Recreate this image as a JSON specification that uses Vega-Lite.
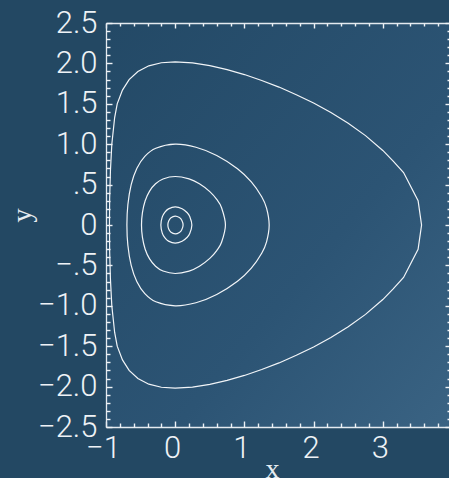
{
  "$schema": "https://vega.github.io/schema/vega-lite/v6.json",
  "width": 343,
  "height": 404,
  "autosize": "none",
  "padding": {"left": 106, "top": 23, "right": 0, "bottom": 51},
  "background": "#234863",
  "config": {
    "view": {"stroke": null, "fill": {"gradient": "linear", "x1": 0, "y1": 0, "x2": 1, "y2": 1, "stops": [{"offset": 0, "color": "#234966"}, {"offset": 0.6, "color": "#2c5474"}, {"offset": 1, "color": "#3a6383"}]}},
    "axis": {"grid": false, "domainColor": "#e4eaf0", "domainWidth": 1.3, "tickColor": "#eef2f6", "tickOpacity": 1, "tickWidth": 1.4, "labelColor": "#eef2f6", "labelFont": "Roboto", "labelFontWeight": 300, "labelFontSize": 31, "labelOverlap": false, "labelFlush": false, "labelBound": false, "titleColor": "#e6ecf1", "titleFont": "Liberation Serif", "titleFontWeight": "normal", "titleFontSize": 28}
  },
  "data": {"values": [
    {"c":1,"i":0,"x":-0.950,"y":0},{"c":1,"i":1,"x":-0.947,"y":0.33},{"c":1,"i":2,"x":-0.936,"y":0.67},{"c":1,"i":3,"x":-0.916,"y":1.0},{"c":1,"i":4,"x":-0.875,"y":1.33},{"c":1,"i":5,"x":-0.838,"y":1.5},{"c":1,"i":6,"x":-0.762,"y":1.67},{"c":1,"i":7,"x":-0.666,"y":1.8},{"c":1,"i":8,"x":-0.539,"y":1.9},{"c":1,"i":9,"x":-0.381,"y":1.97},{"c":1,"i":10,"x":-0.2,"y":2.008},{"c":1,"i":11,"x":0,"y":2.02},{"c":1,"i":12,"x":0.25,"y":2.007},{"c":1,"i":13,"x":0.5,"y":1.973},{"c":1,"i":14,"x":0.75,"y":1.923},{"c":1,"i":15,"x":1.0,"y":1.862},{"c":1,"i":16,"x":1.25,"y":1.789},{"c":1,"i":17,"x":1.5,"y":1.707},{"c":1,"i":18,"x":1.75,"y":1.613},{"c":1,"i":19,"x":2.0,"y":1.509},{"c":1,"i":20,"x":2.25,"y":1.392},{"c":1,"i":21,"x":2.5,"y":1.259},{"c":1,"i":22,"x":2.75,"y":1.106},{"c":1,"i":23,"x":3.0,"y":0.923},{"c":1,"i":24,"x":3.15,"y":0.791},{"c":1,"i":25,"x":3.30,"y":0.65},{"c":1,"i":26,"x":3.51,"y":0.30},{"c":1,"i":27,"x":3.56,"y":0},
    {"c":1,"i":28,"x":3.51,"y":-0.30},{"c":1,"i":29,"x":3.30,"y":-0.65},{"c":1,"i":30,"x":3.15,"y":-0.791},{"c":1,"i":31,"x":3.0,"y":-0.923},{"c":1,"i":32,"x":2.75,"y":-1.106},{"c":1,"i":33,"x":2.5,"y":-1.259},{"c":1,"i":34,"x":2.25,"y":-1.392},{"c":1,"i":35,"x":2.0,"y":-1.509},{"c":1,"i":36,"x":1.75,"y":-1.613},{"c":1,"i":37,"x":1.5,"y":-1.707},{"c":1,"i":38,"x":1.25,"y":-1.789},{"c":1,"i":39,"x":1.0,"y":-1.862},{"c":1,"i":40,"x":0.75,"y":-1.923},{"c":1,"i":41,"x":0.5,"y":-1.973},{"c":1,"i":42,"x":0.25,"y":-2.007},{"c":1,"i":43,"x":0,"y":-2.02},{"c":1,"i":44,"x":-0.2,"y":-2.008},{"c":1,"i":45,"x":-0.381,"y":-1.97},{"c":1,"i":46,"x":-0.539,"y":-1.9},{"c":1,"i":47,"x":-0.666,"y":-1.8},{"c":1,"i":48,"x":-0.762,"y":-1.67},{"c":1,"i":49,"x":-0.838,"y":-1.5},{"c":1,"i":50,"x":-0.875,"y":-1.33},{"c":1,"i":51,"x":-0.916,"y":-1.0},{"c":1,"i":52,"x":-0.936,"y":-0.67},{"c":1,"i":53,"x":-0.947,"y":-0.33},
    {"c":2,"i":0,"x":-0.698,"y":0},{"c":2,"i":1,"x":-0.684,"y":0.25},{"c":2,"i":2,"x":-0.636,"y":0.5},{"c":2,"i":3,"x":-0.555,"y":0.7},{"c":2,"i":4,"x":-0.439,"y":0.85},{"c":2,"i":5,"x":-0.280,"y":0.95},{"c":2,"i":6,"x":0,"y":1.0},{"c":2,"i":7,"x":0.3,"y":0.962},{"c":2,"i":8,"x":0.6,"y":0.860},{"c":2,"i":9,"x":0.9,"y":0.696},{"c":2,"i":10,"x":1.1,"y":0.533},{"c":2,"i":11,"x":1.25,"y":0.349},{"c":2,"i":12,"x":1.32,"y":0.208},{"c":2,"i":13,"x":1.358,"y":0},{"c":2,"i":14,"x":1.32,"y":-0.208},{"c":2,"i":15,"x":1.25,"y":-0.349},{"c":2,"i":16,"x":1.1,"y":-0.533},{"c":2,"i":17,"x":0.9,"y":-0.696},{"c":2,"i":18,"x":0.6,"y":-0.860},{"c":2,"i":19,"x":0.3,"y":-0.962},{"c":2,"i":20,"x":0,"y":-1.0},{"c":2,"i":21,"x":-0.280,"y":-0.95},{"c":2,"i":22,"x":-0.439,"y":-0.85},{"c":2,"i":23,"x":-0.555,"y":-0.7},{"c":2,"i":24,"x":-0.636,"y":-0.5},{"c":2,"i":25,"x":-0.684,"y":-0.25},
    {"c":3,"i":0,"x":-0.487,"y":0},{"c":3,"i":1,"x":-0.474,"y":0.15},{"c":3,"i":2,"x":-0.434,"y":0.3},{"c":3,"i":3,"x":-0.370,"y":0.42},{"c":3,"i":4,"x":-0.284,"y":0.51},{"c":3,"i":5,"x":-0.176,"y":0.57},{"c":3,"i":6,"x":0,"y":0.6},{"c":3,"i":7,"x":0.2,"y":0.570},{"c":3,"i":8,"x":0.35,"y":0.510},{"c":3,"i":9,"x":0.5,"y":0.413},{"c":3,"i":10,"x":0.6,"y":0.316},{"c":3,"i":11,"x":0.67,"y":0.214},{"c":3,"i":12,"x":0.726,"y":0},{"c":3,"i":13,"x":0.67,"y":-0.214},{"c":3,"i":14,"x":0.6,"y":-0.316},{"c":3,"i":15,"x":0.5,"y":-0.413},{"c":3,"i":16,"x":0.35,"y":-0.510},{"c":3,"i":17,"x":0.2,"y":-0.570},{"c":3,"i":18,"x":0,"y":-0.6},{"c":3,"i":19,"x":-0.176,"y":-0.57},{"c":3,"i":20,"x":-0.284,"y":-0.51},{"c":3,"i":21,"x":-0.370,"y":-0.42},{"c":3,"i":22,"x":-0.434,"y":-0.3},{"c":3,"i":23,"x":-0.474,"y":-0.15},
    {"c":4,"i":0,"x":-0.207,"y":0},{"c":4,"i":1,"x":-0.187,"y":0.1},{"c":4,"i":2,"x":-0.148,"y":0.16},{"c":4,"i":3,"x":-0.097,"y":0.2},{"c":4,"i":4,"x":0,"y":0.224},{"c":4,"i":5,"x":0.1,"y":0.2015},{"c":4,"i":6,"x":0.17,"y":0.155},{"c":4,"i":7,"x":0.21,"y":0.106},{"c":4,"i":8,"x":0.241,"y":0},{"c":4,"i":9,"x":0.21,"y":-0.106},{"c":4,"i":10,"x":0.17,"y":-0.155},{"c":4,"i":11,"x":0.1,"y":-0.2015},{"c":4,"i":12,"x":0,"y":-0.224},{"c":4,"i":13,"x":-0.097,"y":-0.2},{"c":4,"i":14,"x":-0.148,"y":-0.16},{"c":4,"i":15,"x":-0.187,"y":-0.1},
    {"c":5,"i":0,"x":-0.106,"y":0},{"c":5,"i":1,"x":-0.094,"y":0.05},{"c":5,"i":2,"x":-0.061,"y":0.09},{"c":5,"i":3,"x":0,"y":0.1095},{"c":5,"i":4,"x":0.06,"y":0.092},{"c":5,"i":5,"x":0.095,"y":0.059},{"c":5,"i":6,"x":0.114,"y":0},{"c":5,"i":7,"x":0.095,"y":-0.059},{"c":5,"i":8,"x":0.06,"y":-0.092},{"c":5,"i":9,"x":0,"y":-0.1095},{"c":5,"i":10,"x":-0.061,"y":-0.09},{"c":5,"i":11,"x":-0.094,"y":-0.05}
  ]},
  "layer": [
    {
      "transform": [{"filter": "datum.c == 1"}],
      "mark": {"type": "line", "interpolate": "linear-closed", "stroke": "#f2f5f8", "strokeWidth": 1.2},
      "encoding": {
        "x": {"field": "x", "type": "quantitative", "scale": {"domain": [-1, 3.9566], "nice": false, "zero": false},
          "axis": {"orient": "bottom", "title": "x", "titleX": 166, "titleY": 50, "titleAlign": "center", "titleBaseline": "alphabetic", "titleAngle": 0,
            "values": [-1,0,1,2,3,4], "ticks": false, "domain": true,
            "labelExpr": "format(datum.value,'d')",
            "labelBaseline": "alphabetic", "labelPadding": 30, "labelOffset": -3}},
        "y": {"field": "y", "type": "quantitative", "scale": {"domain": [-2.5, 2.5], "nice": false, "zero": false},
          "axis": {"orient": "left", "title": "y", "titleX": -76, "titleY": 192, "titleAlign": "center", "titleBaseline": "alphabetic", "titleAngle": -90,
            "values": [-2.5,-2,-1.5,-1,-0.5,0,0.5,1,1.5,2,2.5], "ticks": false, "domain": true,
            "labelExpr": "datum.value==0 ? '0' : datum.value==0.5 ? '.5' : datum.value==-0.5 ? '\u2212.5' : format(datum.value,'.1f')",
            "labelBaseline": "middle", "labelPadding": 9}},
        "detail": {"field": "c", "type": "nominal"},
        "order": {"field": "i", "type": "quantitative"}
      }
    },
    {
      "transform": [{"filter": "datum.c > 1"}],
      "mark": {"type": "line", "interpolate": "cardinal-closed", "stroke": "#f2f5f8", "strokeWidth": 1.2},
      "encoding": {
        "x": {"field": "x", "type": "quantitative", "scale": {"domain": [-1, 3.9566], "nice": false, "zero": false},
          "axis": {"orient": "top", "offset": -404, "title": null, "labels": false, "domain": false, "ticks": true, "tickSize": 6,
            "values": [-1,0,1,2,3]}},
        "y": {"field": "y", "type": "quantitative", "scale": {"domain": [-2.5, 2.5], "nice": false, "zero": false},
          "axis": {"orient": "right", "offset": -343, "title": null, "labels": false, "domain": false, "ticks": true, "tickSize": 6,
            "values": [-2.5,-2,-1.5,-1,-0.5,0,0.5,1,1.5,2,2.5]}},
        "detail": {"field": "c", "type": "nominal"},
        "order": {"field": "i", "type": "quantitative"}
      }
    },
    {
      "transform": [{"filter": "datum.c == 1"}],
      "mark": {"type": "line", "interpolate": "linear-closed", "strokeOpacity": 0, "stroke": "#f2f5f8"},
      "encoding": {
        "x": {"field": "x", "type": "quantitative", "scale": {"domain": [-1, 3.9566], "nice": false, "zero": false},
          "axis": {"orient": "top", "offset": -404, "title": null, "labels": false, "domain": false, "ticks": true, "tickSize": 4,
            "values": [-0.8,-0.6,-0.4,-0.2,0.2,0.4,0.6,0.8,1.2,1.4,1.6,1.8,2.2,2.4,2.6,2.8,3.2,3.4,3.6,3.8]}},
        "y": {"field": "y", "type": "quantitative", "scale": {"domain": [-2.5, 2.5], "nice": false, "zero": false},
          "axis": {"orient": "right", "offset": -343, "title": null, "labels": false, "domain": false, "ticks": true, "tickSize": 4,
            "values": [-2.4,-2.3,-2.2,-2.1,-1.9,-1.8,-1.7,-1.6,-1.4,-1.3,-1.2,-1.1,-0.9,-0.8,-0.7,-0.6,-0.4,-0.3,-0.2,-0.1,0.1,0.2,0.3,0.4,0.6,0.7,0.8,0.9,1.1,1.2,1.3,1.4,1.6,1.7,1.8,1.9,2.1,2.2,2.3,2.4]}},
        "detail": {"field": "c", "type": "nominal"},
        "order": {"field": "i", "type": "quantitative"}
      }
    },
    {
      "transform": [{"filter": "datum.c == 1"}],
      "mark": {"type": "line", "interpolate": "linear-closed", "strokeOpacity": 0, "stroke": "#f2f5f8"},
      "encoding": {
        "x": {"field": "x", "type": "quantitative", "scale": {"domain": [-1, 3.9566], "nice": false, "zero": false},
          "axis": {"orient": "bottom", "offset": -404, "title": null, "labels": false, "domain": true, "ticks": true, "tickSize": 5,
            "values": [-1,0,1,2,3]}},
        "y": {"field": "y", "type": "quantitative", "scale": {"domain": [-2.5, 2.5], "nice": false, "zero": false},
          "axis": {"orient": "left", "offset": -346, "title": null, "labels": false, "domain": false, "ticks": true, "tickSize": 7,
            "values": [-2.5,-2,-1.5,-1,-0.5,0,0.5,1,1.5,2,2.5]}},
        "detail": {"field": "c", "type": "nominal"},
        "order": {"field": "i", "type": "quantitative"}
      }
    },
    {
      "transform": [{"filter": "datum.c == 1"}],
      "mark": {"type": "line", "interpolate": "linear-closed", "strokeOpacity": 0, "stroke": "#f2f5f8"},
      "encoding": {
        "x": {"field": "x", "type": "quantitative", "scale": {"domain": [-1, 3.9566], "nice": false, "zero": false},
          "axis": {"orient": "bottom", "offset": -404, "title": null, "labels": false, "domain": false, "ticks": true, "tickSize": 3,
            "values": [-0.8,-0.6,-0.4,-0.2,0.2,0.4,0.6,0.8,1.2,1.4,1.6,1.8,2.2,2.4,2.6,2.8,3.2,3.4,3.6,3.8]}},
        "y": {"field": "y", "type": "quantitative", "scale": {"domain": [-2.5, 2.5], "nice": false, "zero": false},
          "axis": {"orient": "left", "offset": -346, "title": null, "labels": false, "domain": false, "ticks": true, "tickSize": 5,
            "values": [-2.4,-2.3,-2.2,-2.1,-1.9,-1.8,-1.7,-1.6,-1.4,-1.3,-1.2,-1.1,-0.9,-0.8,-0.7,-0.6,-0.4,-0.3,-0.2,-0.1,0.1,0.2,0.3,0.4,0.6,0.7,0.8,0.9,1.1,1.2,1.3,1.4,1.6,1.7,1.8,1.9,2.1,2.2,2.3,2.4]}},
        "detail": {"field": "c", "type": "nominal"},
        "order": {"field": "i", "type": "quantitative"}
      }
    }
  ],
  "resolve": {"axis": {"x": "independent", "y": "independent"}}
}
